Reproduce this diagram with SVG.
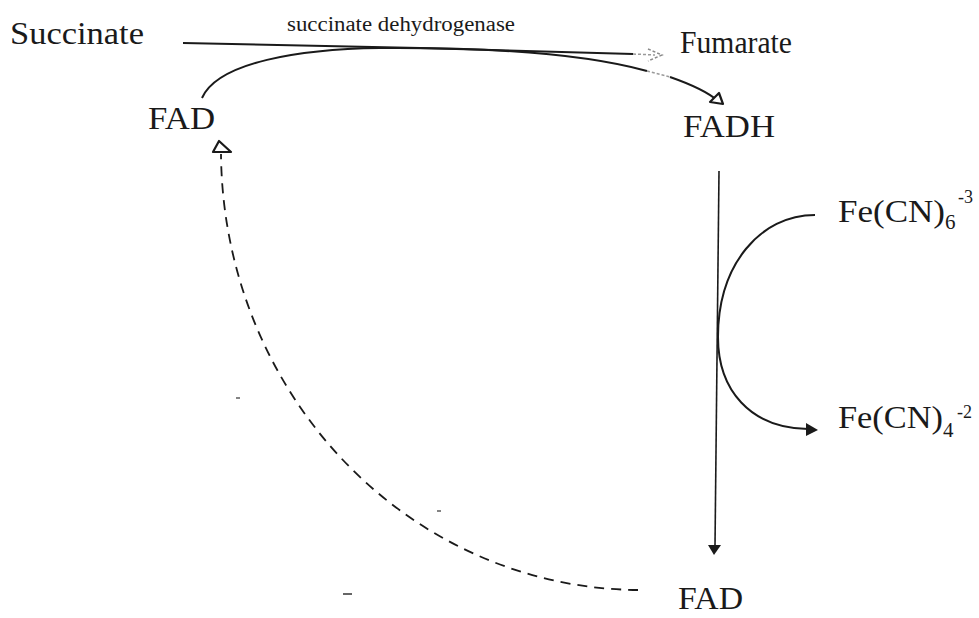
<svg xmlns="http://www.w3.org/2000/svg" width="979" height="618" viewBox="0 0 979 618">
<style>
text{font-family:"Liberation Serif","Times New Roman",serif;fill:#1a1a1a}
.lbl{font-size:32px}
.small{font-size:20px}
.sub{font-size:21px}
.sup{font-size:18px}
.ln{fill:none;stroke:#1a1a1a;stroke-width:2}
.thin{fill:none;stroke:#1a1a1a;stroke-width:1.6}
.dash{fill:none;stroke:#1a1a1a;stroke-width:1.8;stroke-dasharray:10 7}
.grey{fill:none;stroke:#9a9a9a;stroke-width:1.5;stroke-dasharray:3 2}
</style>
<rect width="979" height="618" fill="#ffffff"/>

<g id="connectors">
<!-- Succinate to Fumarate -->
<path class="ln" d="M183,43 L420,48 L633,54"/>
<path class="grey" d="M633,54 L655,55"/>
<path d="M648,49 L662,55 L648,61" fill="none" stroke="#8a8a8a" stroke-width="1.5" stroke-dasharray="3 2"/>
<!-- FAD to FADH -->
<path class="ln" d="M202,98 C218,62 300,49 380,48 C520,47 600,58 647,71"/>
<path class="grey" d="M647,71 L670,77"/>
<path class="ln" d="M670,77 C690,84 708,92 718,101"/>
<path d="M723,104 L710,102 L719,93 Z" fill="#ffffff" stroke="#1a1a1a" stroke-width="2.2" stroke-linejoin="round"/>
<!-- FADH down to FAD -->
<path class="thin" d="M719,171 L715,546"/>
<path d="M708,545 L721,545 L714,555 Z" fill="#1a1a1a"/>
<!-- Ferricyanide curve -->
<path class="ln" d="M815,215 C760,215 718,265 718,337 C718,390 750,428 808,429"/>
<path d="M806,423 L818,430 L806,436 Z" fill="#1a1a1a"/>
<!-- dashed return -->
<path class="dash" d="M638,590 A420,440 0 0 1 221,154"/>
<path d="M219,141 L213,152 L231,152 Z" fill="#ffffff" stroke="#1a1a1a" stroke-width="2.2" stroke-linejoin="round"/>
<!-- scanner specks -->
<path d="M236,398 L240,398" stroke="#333" stroke-width="1.2"/>
<path d="M437,511 L441,511" stroke="#333" stroke-width="1.2"/>
<path d="M343,594 L352,594" stroke="#333" stroke-width="1.5"/>
</g>

<g id="succinate"><text class="lbl" x="10" y="44" textLength="134" lengthAdjust="spacingAndGlyphs">Succinate</text></g>
<g id="enzyme"><text class="small" x="287" y="31" textLength="228" lengthAdjust="spacingAndGlyphs">succinate dehydrogenase</text></g>
<g id="fumarate"><text class="lbl" x="680" y="53" textLength="112" lengthAdjust="spacingAndGlyphs">Fumarate</text></g>
<g id="fad-top"><text class="lbl" x="148" y="129" textLength="67" lengthAdjust="spacingAndGlyphs">FAD</text></g>
<g id="fadh"><text class="lbl" x="683" y="137" textLength="92" lengthAdjust="spacingAndGlyphs">FADH</text></g>
<g id="ferricyanide"><text class="lbl" x="838" y="222" textLength="107" lengthAdjust="spacingAndGlyphs">Fe(CN)</text><text class="sub" x="945" y="229">6</text><text class="sup" x="958" y="203">-3</text></g>
<g id="ferrocyanide"><text class="lbl" x="838" y="428" textLength="105" lengthAdjust="spacingAndGlyphs">Fe(CN)</text><text class="sub" x="943" y="437">4</text><text class="sup" x="957" y="418">-2</text></g>
<g id="fad-bottom"><text class="lbl" x="678" y="609" textLength="65" lengthAdjust="spacingAndGlyphs">FAD</text></g>
</svg>
